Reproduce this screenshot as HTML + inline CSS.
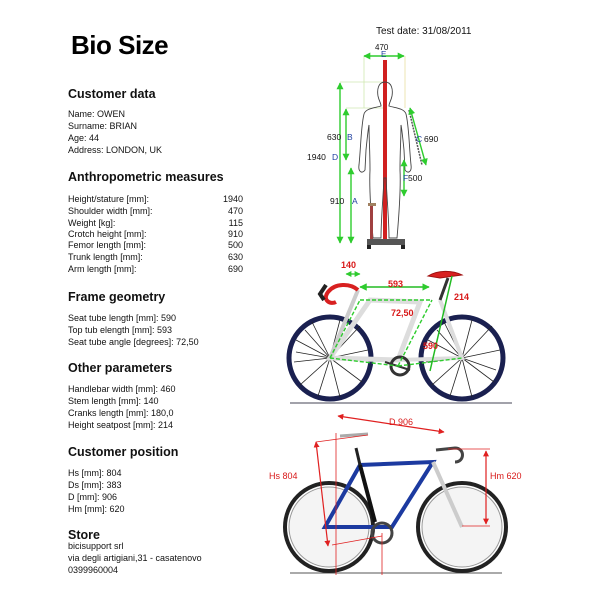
<!DOCTYPE html>
<html><head><meta charset="utf-8"><style>
html,body{margin:0;padding:0;background:#fff;width:600px;height:600px;overflow:hidden}
svg{display:block}
text{font-family:"Liberation Sans",sans-serif}
.h{font-size:12.5px;font-weight:bold;fill:#111}
.b{font-size:9px;fill:#111}
.g{stroke:#2ecc2e;stroke-width:1.4;fill:none}
.r{stroke:#e02020;stroke-width:1.2;fill:none}
.rt{font-size:9px;font-weight:bold;fill:#d81818}
</style></head><body>
<svg width="600" height="600" viewBox="0 0 600 600">
<defs>
<marker id="ga" viewBox="0 0 10 10" refX="9" refY="5" markerWidth="5" markerHeight="5" orient="auto-start-reverse"><path d="M0,0L10,5L0,10z" fill="#2ecc2e"/></marker>
<marker id="ra" viewBox="0 0 10 10" refX="9" refY="5" markerWidth="5" markerHeight="5" orient="auto-start-reverse"><path d="M0,0L10,5L0,10z" fill="#e02020"/></marker>
</defs>
<text x="71" y="54" style="font-size:26px;font-weight:bold;fill:#000;letter-spacing:-0.5px">Bio Size</text>
<text x="376" y="34" style="font-size:10px;fill:#111">Test date: 31/08/2011</text>

<text x="68" y="98" class="h">Customer data</text>
<text x="68" y="117" class="b">Name: OWEN</text>
<text x="68" y="129" class="b">Surname: BRIAN</text>
<text x="68" y="141" class="b">Age: 44</text>
<text x="68" y="153" class="b">Address: LONDON, UK</text>

<text x="68" y="181" class="h">Anthropometric measures</text>
<g class="b">
<text x="68" y="202">Height/stature [mm]:</text><text x="243" y="202" text-anchor="end">1940</text>
<text x="68" y="214">Shoulder width [mm]:</text><text x="243" y="214" text-anchor="end">470</text>
<text x="68" y="226">Weight [kg]:</text><text x="243" y="226" text-anchor="end">115</text>
<text x="68" y="237">Crotch height [mm]:</text><text x="243" y="237" text-anchor="end">910</text>
<text x="68" y="248">Femor length [mm]:</text><text x="243" y="248" text-anchor="end">500</text>
<text x="68" y="260">Trunk length [mm]:</text><text x="243" y="260" text-anchor="end">630</text>
<text x="68" y="272">Arm length [mm]:</text><text x="243" y="272" text-anchor="end">690</text>
</g>

<text x="68" y="301" class="h">Frame geometry</text>
<text x="68" y="321" class="b">Seat tube length [mm]: 590</text>
<text x="68" y="333" class="b">Top tub elength [mm]: 593</text>
<text x="68" y="345" class="b">Seat tube angle [degrees]: 72,50</text>

<text x="68" y="372" class="h">Other parameters</text>
<text x="68" y="392" class="b">Handlebar width [mm]: 460</text>
<text x="68" y="404" class="b">Stem length [mm]: 140</text>
<text x="68" y="416" class="b">Cranks length [mm]: 180,0</text>
<text x="68" y="428" class="b">Height seatpost [mm]: 214</text>

<text x="68" y="456" class="h">Customer position</text>
<text x="68" y="476" class="b">Hs [mm]: 804</text>
<text x="68" y="488" class="b">Ds [mm]: 383</text>
<text x="68" y="500" class="b">D [mm]: 906</text>
<text x="68" y="512" class="b">Hm [mm]: 620</text>

<text x="68" y="539" class="h">Store</text>
<text x="68" y="549" class="b">bicisupport srl</text>
<text x="68" y="561" class="b">via degli artigiani,31 - casatenovo</text>
<text x="68" y="573" class="b">0399960004</text>

<!-- human figure -->
<g>
<line x1="364" y1="56" x2="364" y2="108" stroke="#cfe8b0" stroke-width="0.8"/>
<line x1="405" y1="56" x2="405" y2="108" stroke="#e8e0a0" stroke-width="0.8"/>
<line x1="340" y1="82" x2="385" y2="82" stroke="#cfe8b0" stroke-width="0.8"/>
<line x1="346" y1="108" x2="385" y2="108" stroke="#cfe8b0" stroke-width="0.8"/>
<rect x="383" y="60" width="4" height="185" fill="#d02020"/>
<path d="M385,82 C378,82 377,90 378,96 C379,101 381,103 381,106 C375,108 366,108 364,114 C361,126 361,145 359,165 C358,172 362,174 365,170 L366,150 C367,140 368,130 369,125 C369,140 370,150 370,170 C369,190 371,215 373,238 L381,238 C381,220 383,200 384,178 L386,178 C387,200 389,220 389,238 L397,238 C399,215 401,190 400,170 C400,150 401,140 401,125 C402,130 403,140 404,150 L405,170 C408,174 412,172 411,165 C409,145 409,126 406,114 C404,108 395,108 389,106 C389,103 391,101 392,96 C393,90 392,82 385,82 Z" fill="none" stroke="#444" stroke-width="0.9"/>
<line x1="409" y1="110" x2="422" y2="165" stroke="#555" stroke-width="1.5" stroke-dasharray="2,1"/>
<rect x="367" y="239" width="38" height="6" fill="#555"/>
<rect x="367" y="245" width="4" height="4" fill="#222"/><rect x="401" y="245" width="4" height="4" fill="#222"/>
<rect x="370" y="205" width="3" height="34" fill="#a04040"/>
<rect x="368" y="203" width="8" height="3" fill="#a08060"/>
<line x1="364" y1="56" x2="404" y2="56" class="g" marker-start="url(#ga)" marker-end="url(#ga)"/>
<line x1="340" y1="83" x2="340" y2="243" class="g" marker-start="url(#ga)" marker-end="url(#ga)"/>
<line x1="346" y1="109" x2="346" y2="160" class="g" marker-start="url(#ga)" marker-end="url(#ga)"/>
<line x1="351" y1="168" x2="351" y2="243" class="g" marker-start="url(#ga)" marker-end="url(#ga)"/>
<line x1="410" y1="108" x2="426" y2="165" class="g" marker-start="url(#ga)" marker-end="url(#ga)"/>
<line x1="404" y1="160" x2="404" y2="196" class="g" marker-start="url(#ga)" marker-end="url(#ga)"/>
<text x="375" y="50" style="font-size:8px;fill:#111">470</text>
<text x="381" y="57" style="font-size:8px;fill:#2040a0">E</text>
<text x="327" y="140" style="font-size:8.5px;fill:#111">630</text><text x="347" y="140" style="font-size:8.5px;fill:#2040a0">B</text>
<text x="307" y="160" style="font-size:8.5px;fill:#111">1940</text><text x="332" y="160" style="font-size:8.5px;fill:#2040a0">D</text>
<text x="330" y="204" style="font-size:8.5px;fill:#111">910</text><text x="352" y="204" style="font-size:8.5px;fill:#2040a0">A</text>
<text x="416" y="142" style="font-size:8.5px;fill:#2040a0">C</text><text x="424" y="142" style="font-size:8.5px;fill:#111">690</text>
<text x="403" y="181" style="font-size:8.5px;fill:#2040a0">F</text><text x="408" y="181" style="font-size:8.5px;fill:#111">500</text>
</g>

<!-- bike 1 -->
<g>
<line x1="290" y1="403" x2="512" y2="403" stroke="#445" stroke-width="1"/>
<circle cx="330" cy="358" r="41" fill="none" stroke="#1a2050" stroke-width="5"/>
<circle cx="462" cy="358" r="41" fill="none" stroke="#1a2050" stroke-width="5"/>
<g stroke="#222" stroke-width="0.8">
<path d="M330,358L312,322M330,358L296,340M330,358L294,362M330,358L300,385M330,358L318,396M330,358L340,397M330,358L362,382M330,358L368,350M330,358L360,326M330,358L340,320M330,358L305,330M330,358L296,352"/>
<path d="M462,358L444,322M462,358L428,340M462,358L426,362M462,358L432,385M462,358L450,396M462,358L472,397M462,358L494,382M462,358L500,350M462,358L492,326M462,358L472,320M462,358L437,330M462,358L496,370"/>
</g>
<path d="M330,358 L370,300 L420,302 L398,360 Z" fill="none" stroke="#ddd" stroke-width="5"/>
<path d="M398,360 L462,358 L440,300" fill="none" stroke="#ddd" stroke-width="4"/>
<path d="M330,358 L358,290" fill="none" stroke="#ccc" stroke-width="4"/>
<path d="M440,300 L448,278" stroke="#333" stroke-width="3"/>
<path d="M428,276 C438,270 452,270 462,275 L440,278 Z" fill="#d82020" stroke="#a01010"/>
<path d="M358,290 C350,283 335,283 328,292 C322,300 330,305 336,302" fill="none" stroke="#d82020" stroke-width="4"/>
<path d="M326,285 L320,294 L324,300" fill="none" stroke="#222" stroke-width="4"/>
<circle cx="400" cy="366" r="9" fill="none" stroke="#333" stroke-width="3"/>
<line x1="385" y1="362" x2="410" y2="370" stroke="#333" stroke-width="2"/>
<g class="g" style="stroke-dasharray:4,2">
<line x1="330" y1="358" x2="360" y2="300"/><line x1="360" y1="300" x2="432" y2="300"/><line x1="398" y1="366" x2="432" y2="300"/><line x1="398" y1="366" x2="462" y2="358"/><line x1="330" y1="358" x2="398" y2="366"/>
</g>
<line x1="360" y1="287" x2="429" y2="287" stroke="#22bb22" stroke-width="1.5" marker-start="url(#ga)" marker-end="url(#ga)"/>
<line x1="346" y1="274" x2="360" y2="274" stroke="#22bb22" stroke-width="1.2" marker-start="url(#ga)" marker-end="url(#ga)"/>
<line x1="452" y1="276" x2="430" y2="371" stroke="#22bb22" stroke-width="1.5"/>
<text x="341" y="268" class="rt">140</text>
<text x="388" y="287" class="rt">593</text>
<text x="454" y="300" class="rt">214</text>
<text x="391" y="316" class="rt">72,50</text>
<text x="423" y="349" class="rt">590</text>
</g>

<!-- bike 2 -->
<g>
<line x1="290" y1="573" x2="502" y2="573" stroke="#555" stroke-width="1"/>
<circle cx="329" cy="527" r="44" fill="none" stroke="#222" stroke-width="4"/>
<circle cx="462" cy="527" r="44" fill="none" stroke="#222" stroke-width="4"/>
<circle cx="329" cy="527" r="40" fill="#f4f4f4" stroke="#999" stroke-width="1"/>
<circle cx="462" cy="527" r="40" fill="#f4f4f4" stroke="#999" stroke-width="1"/>
<path d="M325,527 L360,465 L433,462 L392,527 Z" fill="none" stroke="#1c3aa0" stroke-width="4"/>
<path d="M360,465 L375,522" stroke="#111" stroke-width="4"/>
<path d="M433,462 L462,527" stroke="#ccc" stroke-width="4"/>
<path d="M356,448 L360,465" stroke="#222" stroke-width="3"/>
<path d="M340,436 L368,434" stroke="#aaa" stroke-width="3"/>
<path d="M436,450 L455,448 C465,448 465,462 455,462" fill="none" stroke="#444" stroke-width="3"/>
<circle cx="382" cy="533" r="10" fill="none" stroke="#444" stroke-width="3"/>
<line x1="338" y1="416" x2="444" y2="432" class="r" marker-start="url(#ra)" marker-end="url(#ra)"/>
<line x1="316" y1="442" x2="328" y2="546" class="r" marker-end="url(#ra)" marker-start="url(#ra)"/>
<line x1="316" y1="442" x2="368" y2="435" stroke="#e02020" stroke-width="0.8"/>
<line x1="332" y1="545" x2="382" y2="536" stroke="#e02020" stroke-width="0.8"/>
<line x1="336" y1="433" x2="336" y2="575" stroke="#e02020" stroke-width="0.8"/>
<line x1="382" y1="533" x2="382" y2="575" stroke="#e02020" stroke-width="0.8"/>
<line x1="448" y1="449" x2="490" y2="449" stroke="#e02020" stroke-width="0.8"/>
<line x1="462" y1="526" x2="490" y2="526" stroke="#e02020" stroke-width="0.8"/>
<line x1="486" y1="451" x2="486" y2="524" class="r" marker-start="url(#ra)" marker-end="url(#ra)"/>
<text x="389" y="425" class="rt" style="font-weight:normal">D 906</text>
<text x="269" y="479" class="rt" style="font-weight:normal">Hs 804</text>
<text x="490" y="479" class="rt" style="font-weight:normal">Hm 620</text>
</g>
</svg>
</body></html>
